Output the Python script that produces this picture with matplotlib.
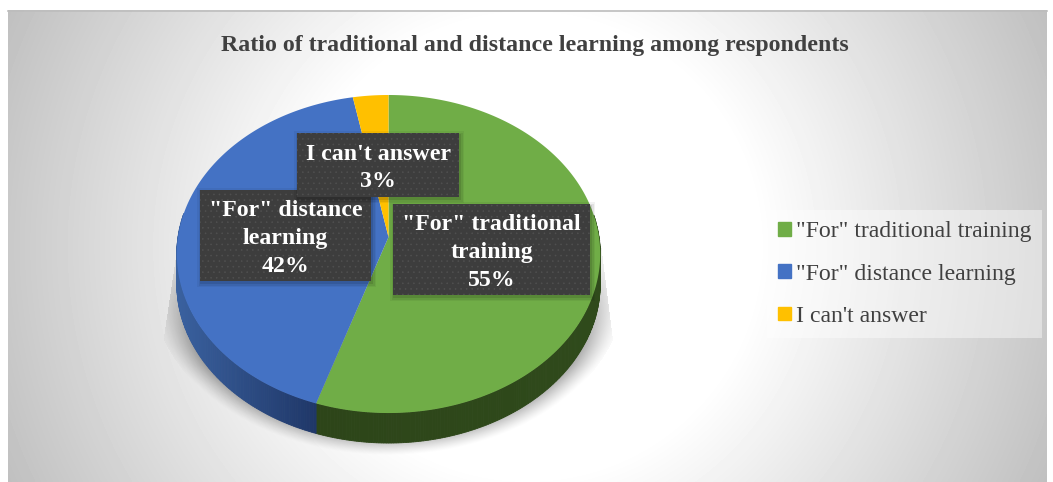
import numpy as np
import matplotlib
matplotlib.use('Agg')
import matplotlib.pyplot as plt
from matplotlib.patches import Rectangle, Patch

title = 'Ratio of traditional and distance learning among respondents'
categories = ['"For" traditional training', '"For" distance learning', "I can't answer"]
box_texts = ['"For" traditional\ntraining\n55%', '"For" distance\nlearning\n42%', "I can't answer\n3%"]
shares = [55, 42, 3]
colors = ['#70ad47', '#4472c4', '#ffc000']
side_left = ['#2d4519', '#3a619f', '#8a6a00']
side_right = ['#2f4a1b', '#1f3768', '#8a6a00']

W, H = 1053, 482
plt.rcParams['font.family'] = ['Liberation Serif', 'DejaVu Serif']
plt.rcParams['hatch.linewidth'] = 0.4

fig = plt.figure(figsize=(W / 100, H / 100), dpi=100)
ax = fig.add_axes((0, 0, 1, 1))

# background gradient of the chart area
x0, x1, y0, y1 = 8, 1047, 10, 482
xx, yy = np.meshgrid(np.arange(x0, x1), np.arange(y0, y1))
d = np.hypot(xx - 527, yy - 246)
bg = 1 - 0.25 * np.clip((d - 230) / 342, 0, 1)
ax.imshow(bg, cmap='gray', vmin=0, vmax=1, extent=(x0, x1, y1, y0), aspect='auto', zorder=0)
ax.plot([x0, x1], [y0 + 0.5, y0 + 0.5], color='#bdbdbd', lw=1.2, zorder=1)

# pie geometry, tilted disc seen in perspective
cx, cy, a, b, k, depth = 388.5, 237, 210.5, 157.2, 0.107, 30


def rim(theta):
    w = 1 + k * np.cos(theta)
    return cx + a * np.sin(theta) / w, cy - b * np.cos(theta) / w


# soft shadow under the pie, straight sides above and cut flat at the bottom
sx, sy = np.meshgrid(np.arange(150, 630), np.arange(235, 456))
r = np.hypot((sx - 388) / 237, (sy - 285) / 170)
alpha = 0.32 * np.clip((1.0 - r) / 0.1, 0, 1) ** 1.3
alpha = alpha + 0.03 * np.clip((385 - sy) / 40, 0, 1)
alpha = alpha * np.clip((sy - 235) / 130, 0.25, 1)
alpha[r > 1] = 0
alpha[sx < 178 - 0.15 * (sy - 240)] = 0
alpha[sx > 600 + 0.125 * (sy - 240)] = 0
shadow = np.zeros(sx.shape + (4,))
shadow[..., 3] = alpha
ax.imshow(shadow, extent=(150, 630, 456, 235), aspect='auto', zorder=2)

edges = np.deg2rad(np.cumsum([0] + shares) / sum(shares) * 360)
handles = []
for i in range(len(shares)):
    th = np.linspace(edges[i], edges[i + 1], max(int(shares[i] * 6), 12))
    px, py = rim(th)
    # side wall only on the near half, the top face covers the rest
    for j in range(len(th) - 1):
        if np.cos(th[j]) > 0.15:
            continue
        t = np.clip((px[j] - 177) / 140, 0, 1) if i == 1 else np.clip((px[j] - 317) / 283, 0, 1)
        c = (1 - t) * np.array(matplotlib.colors.to_rgb(side_left[i])) + t * np.array(matplotlib.colors.to_rgb(side_right[i]))
        ax.fill([px[j], px[j + 1], px[j + 1], px[j]],
                [py[j], py[j + 1], py[j + 1] + depth, py[j] + depth],
                color=c, lw=0.6, zorder=3)
for i in range(len(shares)):
    th = np.linspace(edges[i], edges[i + 1], max(int(shares[i] * 6), 12))
    px, py = rim(th)
    ax.fill(np.r_[cx, px], np.r_[cy, py], color=colors[i], lw=0, zorder=4)
    handles.append(Patch(color=colors[i], label=categories[i]))

# data label boxes (left, top, right, bottom)
boxes = [(393, 204, 590, 295), (200, 190, 371, 281), (297, 133, 459, 197)]
for i, (l, t, r_, bt) in enumerate(boxes):
    z = 5 + i
    for off, al in [(5, 0.05), (3.5, 0.07), (2, 0.10)]:
        ax.add_patch(Rectangle((l - off + 2, t - off + 3), r_ - l + 2 * off - 2, bt - t + 2 * off - 2,
                               fc='black', ec='none', alpha=al, zorder=z))
    ax.add_patch(Rectangle((l, t), r_ - l, bt - t, fc='#3d3d3d', ec='none', zorder=z))
    ax.add_patch(Rectangle((l, t), r_ - l, bt - t, fc='none', ec='#505050', hatch='...', lw=0, zorder=z))
    ax.text((l + r_) / 2, (t + bt) / 2 + 3, box_texts[i], color='white', fontsize=17.2, fontweight='bold',
            ha='center', va='center', linespacing=1.42, zorder=z)

ax.text(535, 45, title, color='#404040', fontsize=17.2, fontweight='bold', ha='center', va='center', zorder=6)

ax.set_xlim(0, W)
ax.set_ylim(H, 0)
ax.axis('off')

leg = ax.legend(handles=handles, loc='upper left', bbox_to_anchor=(767 / W, 1 - 210 / H), bbox_transform=fig.transFigure,
                fontsize=17.1, labelcolor='#404040', frameon=True, fancybox=False, framealpha=0.42,
                facecolor='white', edgecolor='none', handlelength=0.52, handleheight=0.52, handletextpad=0.21,
                labelspacing=0.9, borderpad=0.47, borderaxespad=0)
leg.set_zorder(8)

fig.savefig('out.png', dpi=100)
